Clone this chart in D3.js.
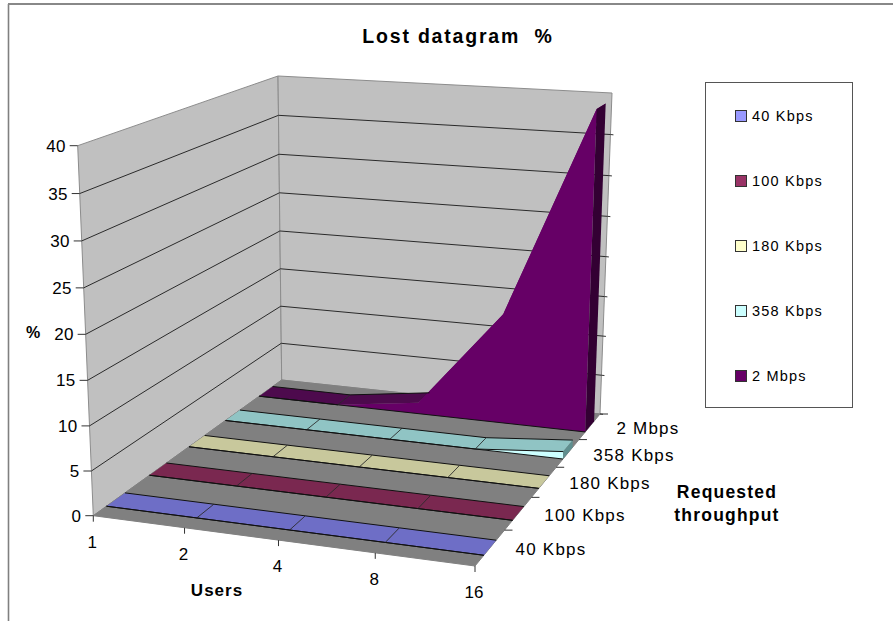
<!DOCTYPE html>
<html>
<head>
<meta charset="utf-8">
<script src="https://cdn.jsdelivr.net/npm/d3@7"></script>
<style>
html,body{margin:0;padding:0;background:#fff}
svg{display:block}
text{font-family:"Liberation Sans",Arial,sans-serif;fill:#000}
</style>
</head>
<body>
<svg id="chart" width="893" height="621"></svg>
<script>
const users = ["1", "2", "4", "8", "16"];
const seriesNames = ["40 Kbps", "100 Kbps", "180 Kbps", "358 Kbps", "2 Mbps"];
const lost40 = [0, 0, 0, 0, 0];
const lost100 = [0, 0, 0, 0, 0];
const lost180 = [0, 0, 0, 0, 0];
const lost358 = [0, 0, 0, 0, 0.9];
const lost2M = [0, 0, 1.4, 13.7, 39.2];
const valueTicks = [0, 5, 10, 15, 20, 25, 30, 35, 40];
const seriesValues = [lost40, lost100, lost180, lost358, lost2M];

const legendColors = ["#9999ff", "#993366", "#ffffcc", "#ccffff", "#660066"];
const topColors = ["#6e6ec6", "#7a2850", "#c8c89c", "#90c4c4", "#4d0a4d"];
const capColors = ["#6e6ec6", "#7a2850", "#c8c89c", "#5f8f8f", "#330033"];

const svg = d3.select("#chart");
const W = 893, H = 621;

/* Corners of the floor and ceiling of the 3D box on screen, in the order
   front-left, front-right, back-right, back-left. */
const floorQuad = [[93.3, 515.7], [475, 566], [600, 414], [281.7, 380]];
const ceilQuad = [[77.7, 145.7], [483, 171], [612, 93], [278, 76]];

/* Plane homography from the unit square onto a quadrilateral. */
function homography(q) {
  const [[x0, y0], [x1, y1], [x2, y2], [x3, y3]] = q;
  const dx1 = x1 - x2, dx2 = x3 - x2, sx = x0 - x1 + x2 - x3;
  const dy1 = y1 - y2, dy2 = y3 - y2, sy = y0 - y1 + y2 - y3;
  const den = dx1 * dy2 - dx2 * dy1;
  const g = (sx * dy2 - dx2 * sy) / den;
  const h = (dx1 * sy - sx * dy1) / den;
  const a = x1 - x0 + g * x1, b = x3 - x0 + h * x3, c = x0;
  const d = y1 - y0 + g * y1, e = y3 - y0 + h * y3, f = y0;
  return (u, v) => {
    const k = g * u + h * v + 1;
    return [(a * u + b * v + c) / k, (d * u + e * v + f) / k];
  };
}
const floorMap = homography(floorQuad);
const ceilMap = homography(ceilQuad);

/* Normalised axes: u along users, v into the depth, w up the value axis. */
const uScale = d3.scalePoint().domain(users).range([0, 1]);
const vScale = d3.scaleBand().domain(seriesNames).range([0, 1]).paddingInner(0.58).paddingOuter(0.29);
const wScale = d3.scaleLinear().domain([0, 40]).range([0, 1]);

function project(u, v, w) {
  const p0 = floorMap(u, v), p1 = ceilMap(u, v);
  const t = w / (1 + 0.04 * (1 - w));
  return [p0[0] + (p1[0] - p0[0]) * t, p0[1] + (p1[1] - p0[1]) * t];
}

const path = d3.line().curve(d3.curveLinearClosed);
const open = d3.line();

function poly(pts, fill, stroke, sw) {
  svg.append("path").attr("d", path(pts))
    .attr("fill", fill).attr("stroke", stroke || "none").attr("stroke-width", sw || 1)
    .attr("stroke-linejoin", "round");
}
function seg(pts, stroke, sw) {
  svg.append("path").attr("d", open(pts)).attr("fill", "none")
    .attr("stroke", stroke).attr("stroke-width", sw || 1);
}
function label(x, y, str, size, opts) {
  const o = opts || {};
  svg.append("text").attr("x", x).attr("y", y)
    .attr("text-anchor", o.anchor || "middle")
    .attr("font-size", size)
    .attr("font-weight", o.bold ? "bold" : "normal")
    .attr("letter-spacing", o.spacing || 0)
    .style("white-space", "pre")
    .text(str);
}

/* Page frame: top and left rules only */
seg([[8.5, 4], [8.5, H]], "#808080", 1.6);
seg([[8, 4], [W, 4]], "#888888", 2);

/* Walls and floor */
poly([project(0, 0, 0), project(0, 1, 0), project(0, 1, 1), project(0, 0, 1)], "#c0c0c0", "#8c8c8c", 1);
poly([project(0, 1, 0), project(1, 1, 0), project(1, 1, 1), project(0, 1, 1)], "#c0c0c0", "#8c8c8c", 1);
poly([project(0, 0, 0), project(1, 0, 0), project(1, 1, 0), project(0, 1, 0)], "#808080", "#808080", 1);

/* Gridlines across both walls */
valueTicks.slice(1, -1).forEach(t => {
  const w = wScale(t);
  seg([project(0, 0, w), project(0, 1, w), project(1, 1, w)], "#2a2a2a", 1);
});

/* Area ribbons, drawn from the back of the box to the front */
seriesNames.slice().reverse().forEach(name => {
  const i = seriesNames.indexOf(name);
  const vals = seriesValues[i];
  const v0 = vScale(name), v1 = v0 + vScale.bandwidth();
  const us = users.map(d => uScale(d));
  const ws = vals.map(d => wScale(d));
  const e = us.length - 1;
  const isPeak = name === "2 Mbps";

  /* Upper surface: dark where flat, body colour where it climbs steeply */
  for (let k = 0; k < e; k++) {
    const rising = (vals[k + 1] - vals[k]) > 5;
    const quad = [project(us[k], v0, ws[k]), project(us[k + 1], v0, ws[k + 1]),
                  project(us[k + 1], v1, ws[k + 1]), project(us[k], v1, ws[k])];
    poly(quad, rising ? legendColors[i] : topColors[i]);
  }

  const front = us.map((u, k) => project(u, v0, ws[k]));
  const base = [project(1, v0, 0), project(0, v0, 0)];
  const backEdge = us.map((u, k) => project(u, v1, ws[k]));

  /* Front face of the ribbon */
  if (d3.max(vals) > 0) poly(front.concat(base), legendColors[i]);

  /* Right-hand end cap */
  poly([project(1, v0, 0), project(1, v1, 0), project(1, v1, ws[e]), project(1, v0, ws[e])], capColors[i]);

  /* Outlines; the steep part of the peak series has none */
  seg(isPeak ? front.slice(0, 2) : front, "#111", 1);
  seg(isPeak ? backEdge.slice(0, 3) : backEdge, "#111", 1);
  seg(base, "#111", 1);

  /* Seams between the segments */
  us.slice(1, isPeak ? 2 : 4).forEach((u, j) => {
    seg([project(u, v0, ws[j + 1]), project(u, v1, ws[j + 1])], "#222", 0.8);
  });
});

/* Value axis ticks and labels */
valueTicks.forEach(t => {
  const p = project(0, 0, wScale(t));
  seg([[p[0] - 8, p[1]], p], "#333", 1);
  label(p[0] - 12, p[1] + 6, String(t), 17, { anchor: "end", spacing: 0.3 });
});
valueTicks.slice(0, -1).forEach(t => {
  const p = project(1, 1, wScale(t));
  seg([p, [p[0] + 3, p[1] + 0.3]], "#333", 1);
});

/* Users axis */
users.forEach(d => {
  const p = project(uScale(d), 0, 0);
  seg([p, [p[0], p[1] + 6]], "#333", 1);
  label(p[0] - 1, p[1] + 32, d, 17);
});

/* Depth axis ticks and labels */
const depthLabelAt = [[551, 555], [585, 521], [610, 489], [634, 461], [648, 434]];
seriesNames.forEach((name, i) => {
  const v = vScale.step() * (i + 1);
  const p = project(1, v, 0);
  seg([p, [p[0] + 8, p[1]]], "#333", 1);
  label(depthLabelAt[i][0], depthLabelAt[i][1], name, 17, { spacing: 1.2 });
});

/* Titles */
label(458, 43, "Lost datagram  %", 19.5, { bold: true, spacing: 1.8 });
label(33, 338, "%", 16, { bold: true });
label(217, 596, "Users", 17, { bold: true, spacing: 1 });
label(727, 498, "Requested", 17.5, { bold: true, spacing: 1.2 });
label(727, 521, "throughput", 17.5, { bold: true, spacing: 1.2 });

/* Legend */
svg.append("rect").attr("x", 705.5).attr("y", 82.5).attr("width", 147).attr("height", 325)
  .attr("fill", "#fff").attr("stroke", "#555").attr("stroke-width", 1);
const legendY = d3.scalePoint().domain(seriesNames).range([116, 376]);
seriesNames.forEach((name, i) => {
  const y = legendY(name);
  svg.append("rect").attr("x", 735.5).attr("y", y - 5.5).attr("width", 11).attr("height", 11)
    .attr("fill", legendColors[i]).attr("stroke", "#333").attr("stroke-width", 1);
  label(752, y + 5, name, 14.5, { anchor: "start", spacing: 1.2 });
});
</script>
</body>
</html>
